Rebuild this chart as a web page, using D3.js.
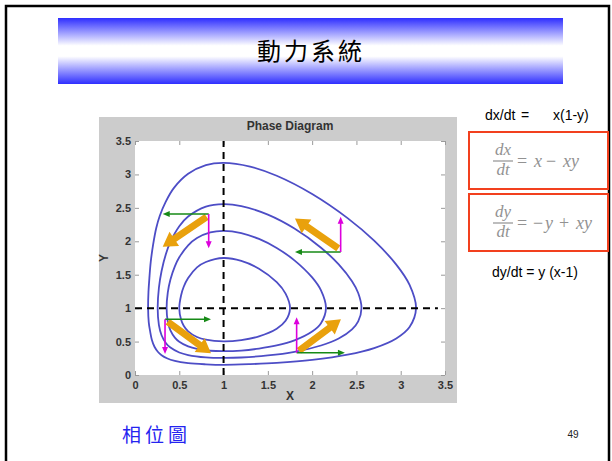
<!DOCTYPE html>
<html><head><meta charset="utf-8">
<script src="https://cdn.jsdelivr.net/npm/d3@7"></script>
<style>body{margin:0;background:#fff}svg{display:block}</style>
</head><body>
<svg id="slide" width="612" height="461"></svg>
<script>
// Axis ticks of the phase plane
const xTicks = [0, 0.5, 1, 1.5, 2, 2.5, 3, 3.5];
const yTicks = [0, 0.5, 1, 1.5, 2, 2.5, 3, 3.5];

// Closed orbits of dx/dt = x(1-y), dy/dt = y(x-1), innermost first: [x, y]
const orbitA = [[0.5,1],[0.52,1.19],[0.55,1.32],[0.6,1.45],[0.7,1.61],[0.8,1.69],[1,1.75],[1.2,1.707],[1.4,1.59],[1.6,1.388],[1.7,1.217],[1.75,1],[1.7,0.81],[1.6,0.692],[1.4,0.578],[1.2,0.522],[1,0.503],[0.8,0.528],[0.7,0.568],[0.6,0.653],[0.55,0.737],[0.52,0.83]];
const orbitB = [[0.357,1],[0.37,1.232],[0.4,1.428],[0.45,1.625],[0.5,1.76],[0.6,1.94],[0.7,2.048],[0.85,2.133],[1,2.156],[1.2,2.123],[1.4,2.035],[1.6,1.9],[1.8,1.715],[2.0,1.459],[2.1,1.265],[2.156,1],[2.1,0.775],[2.0,0.65],[1.8,0.518],[1.6,0.442],[1.4,0.395],[1.2,0.366],[1,0.357],[0.85,0.363],[0.7,0.39],[0.6,0.428],[0.5,0.498],[0.45,0.56],[0.4,0.668],[0.37,0.8]];
const orbitC = [[0.256,1],[0.27,1.305],[0.3,1.556],[0.35,1.814],[0.4,1.99],[0.5,2.225],[0.6,2.37],[0.8,2.519],[1,2.557],[1.2,2.527],[1.5,2.398],[1.8,2.19],[2.1,1.904],[2.3,1.654],[2.45,1.401],[2.52,1.226],[2.557,1],[2.52,0.803],[2.45,0.683],[2.3,0.546],[2.1,0.441],[1.8,0.347],[1.5,0.292],[1.2,0.262],[1,0.256],[0.8,0.264],[0.6,0.299],[0.5,0.337],[0.4,0.41],[0.35,0.476],[0.3,0.595],[0.27,0.747]];
const orbitD = [[0.148,1],[0.152,1.241],[0.162,1.442],[0.178,1.695],[0.205,1.954],[0.24,2.199],[0.28,2.382],[0.345,2.587],[0.44,2.799],[0.6,3.009],[0.8,3.139],[1,3.173],[1.3,3.117],[1.6,2.98],[2.0,2.707],[2.4,2.346],[2.7,2.009],[2.95,1.651],[3.1,1.348],[3.173,1],[3.1,0.718],[2.95,0.547],[2.7,0.403],[2.4,0.3045],[2.0,0.2267],[1.6,0.1815],[1.3,0.1624],[1,0.152],[0.8,0.1596],[0.6,0.1773],[0.45,0.2103],[0.36,0.25],[0.3,0.2958],[0.26,0.344],[0.22,0.4227],[0.19,0.528],[0.17,0.659],[0.155,0.792]];
const orbits = [orbitA, orbitB, orbitC, orbitD];

// Equilibrium lines x = 1 and y = 1
const vLine = [[1, 0], [1, 3.5]];
const hLine = [[0, 1], [3.42, 1]];

// Direction components (from, to) in each quadrant
const greenArrows = [[[0.832,2.407],[0.313,2.407]], [[2.322,1.839],[1.806,1.839]], [[0.339,0.833],[0.858,0.833]], [[1.825,0.333],[2.37,0.333]]];
const magentaArrows = [[[0.832,2.407],[0.832,1.894]], [[2.322,1.839],[2.322,2.366]], [[0.339,0.833],[0.339,0.314]], [[1.825,0.333],[1.825,0.862]]];
const flowArrows = [[[0.809,2.366],[0.313,1.918]], [[2.295,1.894],[1.806,2.342]], [[0.369,0.797],[0.858,0.324]], [[1.851,0.363],[2.325,0.833]]];

// Right-hand side of each equation, token by token
const eqX = [["=", 517, false], ["x", 534, true], ["−", 546, false], ["xy", 563, true]];
const eqY = [["=", 517, false], ["−", 533, false], ["y", 545, true], ["+", 559, false], ["xy", 576, true]];

const svg = d3.select("#slide");

// slide frame
svg.append("path").attr("d", "M6,461V6H609V461").attr("fill", "none")
  .attr("stroke", "#000").attr("stroke-width", 2.5);

// title banner
const defs = svg.append("defs");
const grad = defs.append("linearGradient").attr("id", "band").attr("x1", 0).attr("y1", 0).attr("x2", 0).attr("y2", 1);
[[0, "#2e2eff"], [0.42, "#ffffff"], [0.58, "#ffffff"], [1, "#2e2eff"]].forEach(([o, c]) =>
  grad.append("stop").attr("offset", o).attr("stop-color", c));
svg.append("rect").attr("x", 58).attr("y", 18).attr("width", 505).attr("height", 66).attr("fill", "url(#band)");
svg.append("text").attr("x", 311).attr("y", 60).attr("text-anchor", "middle")
  .attr("font-family", "'Noto Sans CJK TC'").attr("font-size", 24).attr("letter-spacing", 3)
  .attr("fill", "#000").text("動力系統");

// figure panel
svg.append("rect").attr("x", 99).attr("y", 117).attr("width", 358).attr("height", 286).attr("fill", "#cccccc");
const x = d3.scaleLinear().domain([0, 3.5]).range([135, 445]);
const y = d3.scaleLinear().domain([0, 3.5]).range([375, 141]);
svg.append("rect").attr("x", x(0)).attr("y", y(3.5)).attr("width", x(3.5) - x(0)).attr("height", y(0) - y(3.5)).attr("fill", "#fff");

const sans = "Arial, 'Liberation Sans'";
const fmt = d => String(d);
const styleAxis = g => {
  g.select(".domain").remove();
  g.selectAll(".tick line").attr("stroke", "#9a9a9a");
  g.selectAll(".tick text").attr("fill", "#333").attr("font-family", sans).attr("font-size", 11).attr("font-weight", "bold");
};
svg.append("g").attr("transform", `translate(0,${y(0)})`)
  .call(d3.axisBottom(x).tickValues(xTicks).tickFormat(fmt).tickSizeInner(-4).tickSizeOuter(0).tickPadding(6)).call(styleAxis);
svg.append("g").attr("transform", `translate(${x(0)},0)`)
  .call(d3.axisLeft(y).tickValues(yTicks).tickFormat(fmt).tickSizeInner(-4).tickSizeOuter(0).tickPadding(4)).call(styleAxis);
svg.append("g").attr("transform", `translate(0,${y(3.5)})`)
  .call(d3.axisTop(x).tickValues(xTicks).tickFormat("").tickSizeInner(-4).tickSizeOuter(0)).call(styleAxis);
svg.append("g").attr("transform", `translate(${x(3.5)},0)`)
  .call(d3.axisRight(y).tickValues(yTicks).tickFormat("").tickSizeInner(-4).tickSizeOuter(0)).call(styleAxis);

const label = (tx, ty, t, rot) => svg.append("text")
  .attr("transform", `translate(${tx},${ty})` + (rot ? " rotate(-90)" : "")).attr("text-anchor", "middle")
  .attr("font-family", sans).attr("font-size", 12).attr("font-weight", "bold").attr("fill", "#333").text(t);
label((x(0) + x(3.5)) / 2, 130, "Phase Diagram");
label((x(0) + x(3.5)) / 2, 400, "X");
label(108, (y(0) + y(3.5)) / 2, "Y", true);

// orbits
const loop = d3.line().x(d => x(d[0])).y(d => y(d[1])).curve(d3.curveCatmullRomClosed.alpha(0.5));
svg.append("g").selectAll("path").data(orbits).join("path")
  .attr("d", loop).attr("fill", "none").attr("stroke", "#4d4dc6").attr("stroke-width", 1.8);

// dashed equilibrium lines
const seg = d3.line().x(d => x(d[0])).y(d => y(d[1]));
[vLine, hLine].forEach(l => svg.append("path").attr("d", seg(l)).attr("fill", "none")
  .attr("stroke", "#000").attr("stroke-width", 2).attr("stroke-dasharray", "7,5"));

// arrow outline builder in pixel space
function arrowShape(a, b, shaft, headW, headL) {
  const p0 = [x(a[0]), y(a[1])], p1 = [x(b[0]), y(b[1])];
  const dx = p1[0] - p0[0], dy = p1[1] - p0[1], len = Math.hypot(dx, dy);
  const u = [dx / len, dy / len], n = [-u[1], u[0]];
  const base = [p1[0] - u[0] * headL, p1[1] - u[1] * headL];
  const pt = (p, k) => [p[0] + n[0] * k, p[1] + n[1] * k];
  return [pt(p0, shaft / 2), pt(base, shaft / 2), pt(base, headW / 2), p1, pt(base, -headW / 2), pt(base, -shaft / 2), pt(p0, -shaft / 2)];
}
const poly = pts => "M" + pts.map(p => p.join(",")).join("L") + "Z";

svg.append("g").selectAll("path").data(flowArrows).join("path")
  .attr("d", d => poly(arrowShape(d[0], d[1], 7, 17, 14))).attr("fill", "#e9a10c");
svg.append("g").selectAll("path").data(greenArrows).join("path")
  .attr("d", d => poly(arrowShape(d[0], d[1], 1.6, 6, 7))).attr("fill", "#178a17");
svg.append("g").selectAll("path").data(magentaArrows).join("path")
  .attr("d", d => poly(arrowShape(d[0], d[1], 1.6, 6, 7))).attr("fill", "#dd00dd");

// equations on the right
svg.append("text").attr("x", 485).attr("y", 120).attr("font-family", sans).attr("font-size", 14).text("dx/dt");
svg.append("text").attr("x", 521).attr("y", 120).attr("font-family", sans).attr("font-size", 14).text("=");
svg.append("text").attr("x", 553).attr("y", 120).attr("font-family", sans).attr("font-size", 14).text("x(1-y)");
svg.append("text").attr("x", 492).attr("y", 277).attr("font-family", sans).attr("font-size", 14).text("dy/dt = y (x-1)");

const boxes = [
  {top: 132, num: "dx", rhs: eqX},
  {top: 194, num: "dy", rhs: eqY}
];
const serif = "'Liberation Serif', 'DejaVu Serif', serif";
const grey = "#929292";
boxes.forEach(b => {
  const g = svg.append("g");
  g.append("rect").attr("x", 469).attr("y", b.top).attr("width", 139).attr("height", 57)
    .attr("fill", "#fff").attr("stroke", "#f2401e").attr("stroke-width", 2);
  g.append("text").attr("x", 503).attr("y", b.top + 23).attr("text-anchor", "middle")
    .attr("font-family", serif).attr("font-style", "italic").attr("font-size", 17).attr("fill", grey).text(b.num);
  g.append("line").attr("x1", 493).attr("x2", 513).attr("y1", b.top + 29).attr("y2", b.top + 29)
    .attr("stroke", grey).attr("stroke-width", 1.2);
  g.append("text").attr("x", 503).attr("y", b.top + 43).attr("text-anchor", "middle")
    .attr("font-family", serif).attr("font-style", "italic").attr("font-size", 17).attr("fill", grey).text("dt");
  g.selectAll("text.tok").data(b.rhs).join("text").attr("class", "tok")
    .attr("x", d => d[1]).attr("y", b.top + 35)
    .attr("font-family", serif).attr("font-style", d => d[2] ? "italic" : "normal")
    .attr("font-size", 18).attr("fill", grey).text(d => d[0]);
});

// footer
svg.append("text").attr("x", 122).attr("y", 442).attr("font-family", "'Noto Sans CJK TC'").attr("font-size", 19)
  .attr("letter-spacing", 4).attr("fill", "#2424f0").text("相位圖");
svg.append("text").attr("x", 573).attr("y", 438).attr("text-anchor", "middle").attr("font-family", sans)
  .attr("font-size", 10).attr("fill", "#222").text("49");
</script>
</body></html>
